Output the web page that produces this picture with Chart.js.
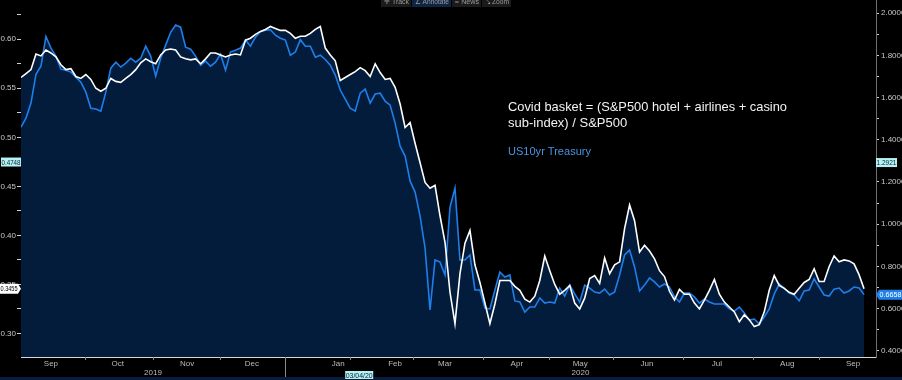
<!DOCTYPE html>
<html>
<head>
<meta charset="utf-8">
<script src="https://cdn.jsdelivr.net/npm/chart.js@4.4.1/dist/chart.umd.min.js"></script>
<style>
html, body { margin: 0; padding: 0; background: #000; }
#wrap { width: 902px; height: 380px; position: relative; }
</style>
</head>
<body>
<div id="wrap"><canvas id="chart" width="902" height="380"></canvas></div>
<script>
// Covid basket (left axis) and US10yr (right axis), trading days Aug 2019 - Sep 2020
var covidBasket = [
    0.561, 0.565, 0.569, 0.585, 0.583, 0.589, 0.586, 0.582, 0.574, 0.569,
    0.570, 0.562, 0.560, 0.564, 0.559, 0.550, 0.547, 0.550, 0.560, 0.557,
    0.556, 0.560, 0.564, 0.569, 0.576, 0.580, 0.577, 0.575, 0.584, 0.589,
    0.590, 0.589, 0.582, 0.580, 0.579, 0.580, 0.575, 0.580, 0.586, 0.586,
    0.584, 0.582, 0.584, 0.585, 0.584, 0.599, 0.601, 0.605, 0.608, 0.610,
    0.613, 0.611, 0.609, 0.609, 0.606, 0.601, 0.603, 0.603, 0.606, 0.610,
    0.613, 0.591, 0.584, 0.578, 0.558, 0.561, 0.564, 0.567, 0.571, 0.568,
    0.562, 0.575, 0.566, 0.559, 0.560, 0.551, 0.534, 0.510, 0.515, 0.494,
    0.474, 0.454, 0.448, 0.451, 0.420, 0.393, 0.342, 0.310, 0.361, 0.392,
    0.405, 0.370, 0.352, 0.331, 0.310, 0.330, 0.354, 0.354, 0.354, 0.348,
    0.344, 0.335, 0.332, 0.338, 0.354, 0.379, 0.364, 0.350, 0.340, 0.344,
    0.349, 0.331, 0.325, 0.336, 0.356, 0.359, 0.351, 0.377, 0.361, 0.370,
    0.373, 0.407, 0.431, 0.415, 0.383, 0.390, 0.384, 0.376, 0.364, 0.358,
    0.343, 0.334, 0.345, 0.340, 0.340, 0.331, 0.325, 0.334, 0.344, 0.355,
    0.340, 0.332, 0.327, 0.322, 0.312, 0.319, 0.314, 0.307, 0.309, 0.322,
    0.344, 0.359, 0.349, 0.346, 0.342, 0.340, 0.346, 0.352, 0.355, 0.366,
    0.353, 0.353, 0.368, 0.379, 0.373, 0.375, 0.374, 0.371, 0.360, 0.3455
];
var us10yr = [
    1.460, 1.503, 1.574, 1.711, 1.749, 1.890, 1.835, 1.797, 1.735, 1.730,
    1.721, 1.697, 1.673, 1.626, 1.550, 1.546, 1.536, 1.626, 1.740, 1.768,
    1.745, 1.764, 1.787, 1.768, 1.787, 1.844, 1.797, 1.702, 1.787, 1.849,
    1.910, 1.944, 1.934, 1.839, 1.830, 1.797, 1.754, 1.773, 1.749, 1.768,
    1.806, 1.730, 1.816, 1.825, 1.835, 1.873, 1.844, 1.887, 1.913, 1.920,
    1.922, 1.896, 1.882, 1.873, 1.801, 1.816, 1.875, 1.844, 1.844, 1.792,
    1.801, 1.781, 1.754, 1.707, 1.636, 1.593, 1.550, 1.536, 1.621, 1.640,
    1.574, 1.617, 1.621, 1.583, 1.564, 1.479, 1.370, 1.323, 1.204, 1.152,
    1.038, 0.887, 0.593, 0.830, 0.820, 0.759, 1.081, 1.171, 0.830, 0.830,
    0.854, 0.688, 0.688, 0.602, 0.598, 0.688, 0.773, 0.749, 0.759, 0.636,
    0.631, 0.583, 0.607, 0.607, 0.650, 0.626, 0.631, 0.626, 0.697, 0.659,
    0.711, 0.669, 0.631, 0.711, 0.697, 0.678, 0.673, 0.692, 0.664, 0.678,
    0.759, 0.854, 0.877, 0.797, 0.683, 0.711, 0.745, 0.726, 0.702, 0.716,
    0.702, 0.655, 0.631, 0.673, 0.673, 0.655, 0.626, 0.645, 0.631, 0.621,
    0.621, 0.621, 0.598, 0.588, 0.607, 0.579, 0.545, 0.550, 0.527, 0.560,
    0.598, 0.669, 0.716, 0.697, 0.673, 0.664, 0.636, 0.683, 0.688, 0.740,
    0.702, 0.664, 0.659, 0.692, 0.697, 0.673, 0.683, 0.702, 0.697, 0.6658
];

// x axis: month labels (trading-day index of label) and month starts
var monthLabels = ["Sep", "Oct", "Nov", "Dec", "Jan", "Feb", "Mar", "Apr", "May", "Jun", "Jul", "Aug", "Sep"];
var monthPos = [6.0, 19.4, 33.3, 46.3, 63.6, 75.0, 85.0, 99.4, 112.1, 125.5, 139.5, 153.6, 166.8];
var monthStarts = [12.8, 26.5, 39.9, 52.9, 66.0, 78.6, 92.6, 105.9, 118.7, 132.7, 146.8, 160.0];
var yearLabels = ["2019", "2020"];
var yearStart = 52.9;

var leftTicks = [0.30, 0.325, 0.35, 0.375, 0.40, 0.425, 0.45, 0.475, 0.50, 0.525, 0.55, 0.575, 0.60, 0.625];
var rightTicks = [0.4, 0.5, 0.6, 0.7, 0.8, 0.9, 1.0, 1.1, 1.2, 1.3, 1.4, 1.5, 1.6, 1.7, 1.8, 1.9, 2.0];

var noteLines = ["Covid basket = (S&P500 hotel + airlines + casino", "sub-index) / S&P500"];
var noteBlue = "US10yr Treasury";
var crossLeft = 0.4748, crossRight = 1.2921, crossDate = "03/04/20", crossIndex = 67.8;
var toolbar = ["\u271B Track", "\u2220 Annotate", "\u2261 News", "\u2921 Zoom"];

var NAVY = "#031c3b";
var BLUE = "#1f7fea";
var TICKFONT = "8px 'Liberation Sans Narrow', 'Liberation Sans', sans-serif";

function tag(ctx, text, x0, x1, yc, h, bg, fg, point) {
    var top = yc - h / 2, bot = yc + h / 2;
    ctx.beginPath();
    if (point === "right") {
        ctx.moveTo(x0, top); ctx.lineTo(x1 - 3, top); ctx.lineTo(x1, yc);
        ctx.lineTo(x1 - 3, bot); ctx.lineTo(x0, bot);
    } else if (point === "left") {
        ctx.moveTo(x0 + 3, top); ctx.lineTo(x1, top); ctx.lineTo(x1, bot);
        ctx.lineTo(x0 + 3, bot); ctx.lineTo(x0, yc);
    } else {
        ctx.rect(x0, top, x1 - x0, h);
    }
    ctx.closePath();
    ctx.fillStyle = bg;
    ctx.fill();
    ctx.fillStyle = fg;
    ctx.font = "7.5px 'Liberation Sans', sans-serif";
    ctx.textAlign = "center";
    ctx.textBaseline = "middle";
    var shift = point === "left" ? 1.5 : point === "right" ? -1.5 : 0;
    var room = x1 - x0 - (point ? 4 : 1);
    ctx.fillText(text, (x0 + x1) / 2 + shift, yc + 0.5, room);
}

var extras = {
    id: "extras",
    beforeDraw: function (chart) {
        var ctx = chart.ctx;
        ctx.save();
        ctx.fillStyle = "#000";
        ctx.fillRect(0, 0, chart.width, chart.height);
        ctx.restore();
    },
    afterDraw: function (chart) {
        var ctx = chart.ctx, xs = chart.scales.x, yl = chart.scales.yL, yr = chart.scales.yR;
        var area = chart.chartArea;
        ctx.save();

        // month boundary ticks + year divider
        ctx.strokeStyle = "#8a8a8a";
        ctx.lineWidth = 1;
        monthStarts.forEach(function (m) {
            var px = Math.round(xs.getPixelForValue(m)) + 0.5;
            ctx.beginPath();
            ctx.moveTo(px, area.bottom);
            ctx.lineTo(px, m === yearStart ? chart.height - 3 : area.bottom + 3);
            ctx.stroke();
        });

        // year labels
        var xd = xs.getPixelForValue(yearStart);
        ctx.fillStyle = "#bbb";
        ctx.font = TICKFONT;
        ctx.textAlign = "center";
        ctx.textBaseline = "middle";
        ctx.fillText(yearLabels[0], (area.left + xd) / 2, 373);
        ctx.fillText(yearLabels[1], (xd + area.right) / 2, 373);

        // bottom band
        ctx.fillStyle = "#0a1c3e";
        ctx.fillRect(0, chart.height - 3, chart.width, 3);

        // annotation text
        ctx.textAlign = "left";
        ctx.textBaseline = "alphabetic";
        ctx.font = "13px 'Liberation Sans', sans-serif";
        ctx.fillStyle = "#f2f2f2";
        ctx.fillText(noteLines[0], 508, 111, 279);
        ctx.fillText(noteLines[1], 508, 127);
        ctx.font = "11.5px 'Liberation Sans', sans-serif";
        ctx.fillStyle = "#4a93e0";
        ctx.fillText(noteBlue, 508, 155, 83);

        // value tags
        tag(ctx, crossLeft.toFixed(4), 1, 21, yl.getPixelForValue(crossLeft), 9, "#b6f2f2", "#02203a", null);
        tag(ctx, covidBasket[covidBasket.length - 1].toFixed(4), 0, 21, yl.getPixelForValue(covidBasket[covidBasket.length - 1]), 10, "#ffffff", "#000", "right");
        tag(ctx, crossRight.toFixed(4), 876, 897, yr.getPixelForValue(crossRight), 9, "#b6f2f2", "#02203a", null);
        tag(ctx, us10yr[us10yr.length - 1].toFixed(4), 876, 902, yr.getPixelForValue(us10yr[us10yr.length - 1]), 10, BLUE, "#fff", "left");
        var xc = xs.getPixelForValue(crossIndex);
        tag(ctx, crossDate, xc - 14, xc + 14, 375, 8, "#b6f2f2", "#02203a", null);

        // toolbar strip at the top
        var bx = [381, 412, 452, 482, 512];
        for (var i = 0; i < toolbar.length; i++) {
            ctx.fillStyle = i === 1 ? "#0f2544" : "#1b1b1b";
            ctx.fillRect(bx[i], 0, bx[i + 1] - bx[i] - 1, 7);
            ctx.fillStyle = "#9a9a9a";
            ctx.font = "8px 'Liberation Sans', sans-serif";
            ctx.textAlign = "center";
            ctx.textBaseline = "alphabetic";
            ctx.fillText(toolbar[i], (bx[i] + bx[i + 1]) / 2, 4, bx[i + 1] - bx[i] - 6);
        }
        ctx.restore();
    }
};

function zeroPad(s) {
    s.paddingTop = 0; s.paddingBottom = 0; s.paddingLeft = 0; s.paddingRight = 0;
}

var ctx = document.getElementById("chart").getContext("2d");
new Chart(ctx, {
    type: "line",
    data: {
        datasets: [
            {
                label: "Covid basket",
                data: covidBasket.map(function (v, i) { return { x: i, y: v }; }),
                yAxisID: "yL",
                borderColor: "#ffffff",
                borderWidth: 1.6,
                backgroundColor: NAVY,
                fill: "start",
                pointRadius: 0,
                tension: 0
            },
            {
                label: "US10yr Treasury",
                data: us10yr.map(function (v, i) { return { x: i, y: v }; }),
                yAxisID: "yR",
                borderColor: BLUE,
                borderWidth: 1.6,
                backgroundColor: NAVY,
                fill: "start",
                pointRadius: 0,
                tension: 0
            }
        ]
    },
    options: {
        responsive: false,
        animation: false,
        layout: { padding: 0 },
        plugins: {
            legend: { display: false },
            tooltip: { enabled: false },
            filler: { drawTime: "beforeDatasetsDraw" }
        },
        scales: {
            x: {
                type: "linear",
                min: 0,
                max: 171.4,
                afterBuildTicks: function (s) { s.ticks = monthPos.map(function (v) { return { value: v }; }); },
                afterFit: function (s) { s.height = 23; zeroPad(s); },
                ticks: {
                    autoSkip: false,
                    maxRotation: 0,
                    padding: 2,
                    color: "#bbb",
                    font: { family: "'Liberation Sans Narrow', 'Liberation Sans', sans-serif", size: 8 },
                    callback: function (v, i) { return monthLabels[i]; }
                },
                grid: { display: false, drawTicks: false },
                border: { display: true, color: "#d8d8d8", width: 1 }
            },
            yL: {
                type: "linear",
                position: "left",
                min: 0.276,
                max: 0.64,
                afterBuildTicks: function (s) { s.ticks = leftTicks.map(function (v) { return { value: v }; }); },
                afterFit: function (s) { s.width = 21; zeroPad(s); },
                ticks: {
                    autoSkip: false,
                    padding: 1,
                    color: "#c8c8c8",
                    font: { family: "'Liberation Sans Narrow', 'Liberation Sans', sans-serif", size: 8 },
                    callback: function (v) {
                        return Math.abs(v * 20 - Math.round(v * 20)) < 1e-6 ? v.toFixed(2) : "";
                    }
                },
                grid: { drawOnChartArea: false, tickLength: 4, color: "#cfcfcf", tickColor: "#cfcfcf" },
                border: { display: false }
            },
            yR: {
                type: "linear",
                position: "right",
                min: 0.37,
                max: 2.063,
                afterBuildTicks: function (s) { s.ticks = rightTicks.map(function (v) { return { value: v }; }); },
                afterFit: function (s) { s.width = 26; zeroPad(s); },
                ticks: {
                    autoSkip: false,
                    padding: 2,
                    color: "#c8c8c8",
                    font: { family: "'Liberation Sans Narrow', 'Liberation Sans', sans-serif", size: 8 },
                    callback: function (v) {
                        return Math.abs(v * 5 - Math.round(v * 5)) < 1e-6 ? v.toFixed(4) : "";
                    }
                },
                grid: { drawOnChartArea: false, tickLength: 3, color: "#cfcfcf", tickColor: "#cfcfcf" },
                border: { display: true, color: "#6e6e6e", width: 1 }
            }
        }
    },
    plugins: [extras]
});
</script>
</body>
</html>
